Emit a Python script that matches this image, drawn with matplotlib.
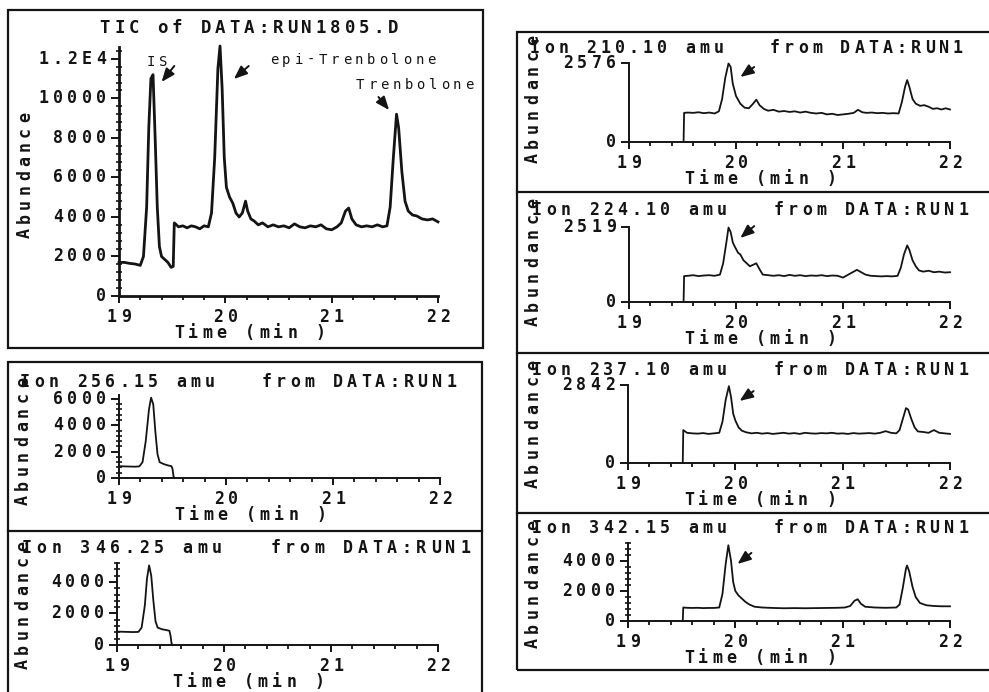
import matplotlib
matplotlib.use("Agg")
import matplotlib.pyplot as plt
from matplotlib.transforms import offset_copy, blended_transform_factory
from matplotlib.patches import Rectangle
from matplotlib.lines import Line2D

# ---- data (time in min, abundance) ----
tic_time = [19.00, 19.05, 19.10, 19.15, 19.20, 19.23, 19.26, 19.28, 19.30, 19.32,
            19.34, 19.36, 19.38, 19.40, 19.43, 19.46, 19.49, 19.51, 19.52, 19.56,
            19.60, 19.64, 19.68, 19.72, 19.76, 19.80, 19.84, 19.87, 19.90, 19.93,
            19.95, 19.97, 19.99, 20.01, 20.04, 20.07, 20.10, 20.13, 20.16, 20.19,
            20.21, 20.24, 20.27, 20.31, 20.35, 20.40, 20.45, 20.50, 20.55, 20.60,
            20.65, 20.70, 20.75, 20.80, 20.85, 20.90, 20.95, 21.00, 21.05, 21.09,
            21.13, 21.16, 21.19, 21.23, 21.28, 21.33, 21.38, 21.43, 21.48, 21.52,
            21.55, 21.58, 21.61, 21.63, 21.66, 21.69, 21.72, 21.76, 21.80, 21.85,
            21.90, 21.95, 22.00]
tic_abund = [1700, 1700, 1650, 1620, 1550, 2000, 4500, 8500, 11000, 11200,
             8000, 4500, 2500, 2000, 1850, 1700, 1450, 1500, 3700, 3500,
             3550, 3450, 3550, 3500, 3400, 3550, 3500, 4200, 7000, 11500,
             12650, 10500, 7000, 5500, 5000, 4700, 4200, 4000, 4200, 4800,
             4300, 3900, 3800, 3600, 3700, 3500, 3600, 3500, 3550, 3450,
             3650, 3500, 3450, 3550, 3500, 3600, 3400, 3350, 3500, 3700,
             4300, 4450, 3900, 3600, 3500, 3550, 3500, 3600, 3500, 3550,
             4500, 7000, 9200, 8500, 6300, 4800, 4300, 4100, 4050, 3900,
             3850, 3900, 3750]

ion256_time = [19.00, 19.05, 19.10, 19.15, 19.19, 19.22, 19.25, 19.28, 19.30, 19.32,
               19.34, 19.36, 19.38, 19.42, 19.46, 19.49, 19.50, 19.51, 19.52]
ion256_abund = [900, 880, 870, 860, 880, 1200, 2800, 5200, 6100, 5600,
                3500, 1800, 1200, 1050, 950, 900, 700, 100, 0]

ion346_time = [19.00, 19.05, 19.10, 19.15, 19.20, 19.23, 19.26, 19.28, 19.30, 19.32,
               19.34, 19.36, 19.38, 19.42, 19.46, 19.49, 19.50, 19.51, 19.52]
ion346_abund = [850, 840, 830, 820, 830, 1100, 2500, 4200, 5050, 4400,
                2800, 1500, 1100, 1000, 950, 900, 600, 100, 0]

ion210_time = [19.51, 19.515, 19.55, 19.60, 19.65, 19.70, 19.75, 19.80, 19.84, 19.87,
               19.90, 19.93, 19.95, 19.97, 20.00, 20.04, 20.08, 20.12, 20.16, 20.19,
               20.22, 20.26, 20.30, 20.35, 20.40, 20.45, 20.50, 20.55, 20.60, 20.65,
               20.70, 20.75, 20.80, 20.85, 20.90, 20.95, 21.00, 21.05, 21.10, 21.14,
               21.18, 21.22, 21.27, 21.32, 21.37, 21.42, 21.47, 21.52, 21.55, 21.58,
               21.60, 21.62, 21.65, 21.68, 21.72, 21.76, 21.80, 21.84, 21.88, 21.92,
               21.96, 22.00]
ion210_abund = [0, 950, 960, 950, 970, 940, 960, 930, 1000, 1400,
                2100, 2560, 2450, 1900, 1500, 1250, 1120, 1100, 1250, 1380,
                1200, 1080, 1020, 1050, 990, 1010, 980, 1000, 960, 990,
                950, 930, 950, 900, 920, 880, 900, 920, 950, 1050,
                970, 950, 960, 940, 950, 930, 940, 930, 1300, 1800,
                2020, 1800, 1400, 1250, 1180, 1200, 1150, 1080, 1100, 1060,
                1100, 1060]

ion224_time = [19.51, 19.515, 19.55, 19.60, 19.65, 19.70, 19.75, 19.80, 19.85, 19.88,
               19.91, 19.93, 19.95, 19.97, 19.99, 20.02, 20.04, 20.07, 20.10, 20.13,
               20.16, 20.19, 20.22, 20.25, 20.30, 20.35, 20.40, 20.45, 20.50, 20.55,
               20.60, 20.65, 20.70, 20.75, 20.80, 20.85, 20.90, 20.95, 21.00, 21.04,
               21.09, 21.13, 21.17, 21.21, 21.26, 21.31, 21.36, 21.41, 21.46, 21.51,
               21.54, 21.57, 21.60, 21.62, 21.65, 21.68, 21.71, 21.75, 21.80, 21.85,
               21.90, 21.95, 22.00]
ion224_abund = [0, 870, 880, 900, 870, 890, 900, 880, 920, 1300,
                2000, 2500, 2350, 2000, 1850, 1650, 1600, 1400, 1300, 1200,
                1250, 1300, 1100, 920, 900, 880, 900, 870, 910, 880,
                900, 870, 890, 880, 900, 870, 890, 880, 820, 900,
                1000, 1080, 1000, 920, 880, 870, 860, 870, 860, 880,
                1150, 1600, 1900, 1750, 1400, 1200, 1060, 1020, 1050, 1000,
                1020, 990, 1000]

ion237_time = [19.51, 19.515, 19.55, 19.60, 19.65, 19.70, 19.75, 19.80, 19.85, 19.88,
               19.91, 19.94, 19.96, 19.98, 20.00, 20.03, 20.06, 20.10, 20.15, 20.20,
               20.25, 20.30, 20.35, 20.40, 20.45, 20.50, 20.55, 20.60, 20.65, 20.70,
               20.75, 20.80, 20.85, 20.90, 20.95, 21.00, 21.05, 21.10, 21.15, 21.20,
               21.25, 21.30, 21.35, 21.40, 21.45, 21.50, 21.53, 21.56, 21.59, 21.61,
               21.64, 21.67, 21.70, 21.75, 21.80, 21.85, 21.90, 21.95, 22.00]
ion237_abund = [0, 1200, 1100, 1080, 1070, 1090, 1060, 1080, 1100, 1500,
                2300, 2800, 2400, 1800, 1550, 1300, 1180, 1120, 1080, 1100,
                1070, 1090, 1060, 1080, 1100, 1070, 1090, 1060, 1100, 1080,
                1070, 1090, 1080, 1100, 1070, 1080, 1060, 1090, 1070, 1080,
                1090, 1070, 1100, 1160, 1100, 1080, 1200, 1600, 2000, 1950,
                1600, 1300, 1150, 1130, 1100, 1200, 1100, 1080, 1060]

ion342_time = [19.51, 19.515, 19.55, 19.60, 19.65, 19.70, 19.75, 19.80, 19.85, 19.88,
               19.91, 19.935, 19.96, 19.98, 20.00, 20.03, 20.06, 20.09, 20.13, 20.18,
               20.25, 20.35, 20.45, 20.55, 20.65, 20.75, 20.85, 20.95, 21.02, 21.07,
               21.11, 21.14, 21.17, 21.21, 21.30, 21.40, 21.50, 21.53, 21.56, 21.59,
               21.60, 21.62, 21.65, 21.68, 21.72, 21.78, 21.85, 21.92, 22.00]
ion342_abund = [0, 900, 880, 870, 880, 860, 870, 870, 900, 1800,
                3800, 5050, 4000, 2600, 2000, 1700, 1500, 1300, 1100, 950,
                900, 870, 850, 860, 850, 860, 870, 880, 900, 1000,
                1350, 1450, 1150, 950, 900, 880, 900, 1100, 2200, 3500,
                3700, 3300, 2300, 1600, 1200, 1050, 1000, 980, 980]

x_ticks = [19, 20, 21, 22]
x_labels = ["19", "20", "21", "22"]
tic_yticks = [0, 2000, 4000, 6000, 8000, 10000, 12000]
tic_ylabels = ["0", "2000", "4000", "6000", "8000", "10000", "1.2E4"]

W, H = 989, 692
PT = 72 / 100.0
INK = "#141414"
FONT = "DejaVu Sans Mono"

fig = plt.figure(figsize=(W / 100, H / 100), dpi=100)
fig.patch.set_facecolor("white")
fig_tr = fig.transFigure


def chars(x, y, s, trans, pitch=14.4, size=12, anchor="center",
          vertical=False, dx=0, dy=0, weight="bold"):
    # plotter style text: every glyph on a fixed, wide pitch
    n = len(s)
    if anchor == "center":
        first = -(n - 1) / 2 * pitch
    elif anchor == "right":
        first = -(n - 1) * pitch
    else:
        first = 0
    for i, ch in enumerate(s):
        if ch == " ":
            continue
        d = first + i * pitch
        if vertical:
            ox, oy = dx, dy + d
        else:
            ox, oy = dx + d, dy
        tr = offset_copy(trans, fig=fig, x=ox * PT, y=oy * PT, units="points")
        fig.text(x, y, ch, transform=tr, ha="center", va="center",
                 rotation=90 if vertical else 0, fontsize=size,
                 family=FONT, color=INK, fontweight=weight)


def ftext(x, y, s, **kw):
    chars(x / W, 1 - y / H, s, fig_tr, **kw)


def panel(l, t, r, b, ytop, yticks, ylabels, minor_y, axlw=1.4):
    ax = fig.add_axes([l / W, 1 - b / H, (r - l) / W, (b - t) / H])
    ax.patch.set_alpha(0)
    ax.set_xlim(19, 22)
    ax.set_ylim(0, ytop)
    for s in ["top", "right"]:
        ax.spines[s].set_visible(False)
    for s in ["left", "bottom"]:
        ax.spines[s].set_linewidth(axlw)
        ax.spines[s].set_color(INK)
    ax.set_xticks(x_ticks)
    ax.set_xticks([19.2, 19.4, 19.6, 19.8, 20.2, 20.4, 20.6, 20.8,
                   21.2, 21.4, 21.6, 21.8], minor=True)
    ax.set_yticks(yticks)
    if minor_y:
        ax.set_yticks([v for v in range(0, int(ytop) + 1, 400) if v % 2000], minor=True)
    ax.tick_params(labelbottom=False, labelleft=False, colors=INK)
    ax.tick_params(axis="x", which="major", direction="out", length=5, width=1.4)
    ax.tick_params(axis="x", which="minor", direction="out", length=3, width=1.2)
    ax.tick_params(axis="y", which="major", direction="out", length=6, width=1.4)
    ax.tick_params(axis="y", which="minor", direction="inout", length=5, width=1.1)
    ytr = blended_transform_factory(ax.transAxes, ax.transData)
    xtr = blended_transform_factory(ax.transData, ax.transAxes)
    for v, lab in zip(yticks, ylabels):
        chars(0, v, lab, ytr, anchor="right", dx=-18)
    for v, lab in zip(x_ticks, x_labels):
        chars(v, 0, lab, xtr, dy=-21)
    chars(0.41, 0, "Time (min )", ax.transAxes, pitch=14.2, dy=-37)
    return ax


def arrow(ax, tip, tail):
    ax.annotate("", xy=tip, xytext=tail, annotation_clip=False,
                arrowprops=dict(arrowstyle="-|>,head_length=0.8,head_width=0.32",
                                color=INK, lw=1.4, shrinkA=0, shrinkB=0))


# ---- frames ----
fig.add_artist(Rectangle((8 / W, 1 - 348 / H), 475 / W, 338 / H, fill=False,
                         lw=1.6, ec=INK, transform=fig_tr))
fig.add_artist(Rectangle((8 / W, 1 - 700 / H), 474 / W, 338 / H, fill=False,
                         lw=1.6, ec=INK, transform=fig_tr))
fig.add_artist(Line2D([8 / W, 482 / W], [1 - 531 / H] * 2, lw=1.6, color=INK,
                      transform=fig_tr))
fig.add_artist(Rectangle((517 / W, 1 - 670 / H), 480 / W, 638 / H, fill=False,
                         lw=1.6, ec=INK, transform=fig_tr))
for yy in [192, 353, 513]:
    fig.add_artist(Line2D([517 / W, 1.0], [1 - yy / H] * 2, lw=1.6, color=INK,
                          transform=fig_tr))

# ---- TIC ----
ax = panel(119, 47, 438, 296, 12600, tic_yticks, tic_ylabels, True, axlw=2.0)
ax.plot(tic_time, tic_abund, color=INK, lw=2.0, clip_on=False, solid_joinstyle="round")
ftext(249, 28, "TIC of DATA:RUN1805.D", size=12.5)
ftext(25, 175, "Abundance", vertical=True)
chars(19.36, 11840, "IS", ax.transData, pitch=12, size=10, weight="normal")
chars(21.2, 11940, "epi-Trenbolone", ax.transData, pitch=12.1, size=10, weight="normal")
chars(21.78, 10680, "Trenbolone", ax.transData, pitch=12.1, size=10, weight="normal")
arrow(ax, (19.40, 10830), (19.52, 11640))
arrow(ax, (20.08, 10980), (20.22, 11640))
arrow(ax, (21.54, 9410), (21.44, 10070))

# ---- left single ion panels ----
ax = panel(119, 395, 440, 478, 6300, [0, 2000, 4000, 6000],
           ["0", "2000", "4000", "6000"], True)
ax.plot(ion256_time, ion256_abund, color=INK, lw=1.3, clip_on=False)
ftext(25, 382, "Ion 256.15 amu   from DATA:RUN1", pitch=14.2, anchor="left")
ftext(23, 441, "Abundance", vertical=True, pitch=14.7)

ax = panel(117, 563, 438, 645, 5200, [0, 2000, 4000],
           ["0", "2000", "4000"], True)
ax.plot(ion346_time, ion346_abund, color=INK, lw=1.3, clip_on=False)
ftext(27, 548, "Ion 346.25 amu   from DATA:RUN1", pitch=14.6, anchor="left")
ftext(23, 605, "Abundance", vertical=True, pitch=14.7)

# ---- right single ion panels ----
ax = panel(629, 63, 950, 142, 2576, [0, 2576], ["0", "2576"], False)
ax.plot(ion210_time, ion210_abund, color=INK, lw=1.3, clip_on=False)
ftext(535, 48, "Ion 210.10 amu   from DATA:RUN1", pitch=14.1, anchor="left")
ftext(533, 99, "Abundance", vertical=True, pitch=14.7)
arrow(ax, (20.04, 2120), (20.17, 2445))

ax = panel(629, 227, 950, 302, 2519, [0, 2519], ["0", "2519"], False)
ax.plot(ion224_time, ion224_abund, color=INK, lw=1.3, clip_on=False)
ftext(537, 210, "Ion 224.10 amu   from DATA:RUN1", pitch=14.2, anchor="left")
ftext(533, 262, "Abundance", vertical=True, pitch=14.7)
arrow(ax, (20.04, 2150), (20.17, 2550))

ax = panel(628, 385, 950, 463, 2842, [0, 2842], ["0", "2842"], False)
ax.plot(ion237_time, ion237_abund, color=INK, lw=1.3, clip_on=False)
ftext(537, 370, "Ion 237.10 amu   from DATA:RUN1", pitch=14.2, anchor="left")
ftext(533, 424, "Abundance", vertical=True, pitch=14.7)
arrow(ax, (20.04, 2260), (20.17, 2620))

ax = panel(628, 543, 950, 621, 5200, [0, 2000, 4000],
           ["0", "2000", "4000"], True)
ax.plot(ion342_time, ion342_abund, color=INK, lw=1.3, clip_on=False)
ftext(537, 528, "Ion 342.15 amu   from DATA:RUN1", pitch=14.2, anchor="left")
ftext(533, 584, "Abundance", vertical=True, pitch=14.7)
arrow(ax, (20.02, 3800), (20.15, 4540))

fig.savefig("out.png", dpi=100, facecolor="white")
